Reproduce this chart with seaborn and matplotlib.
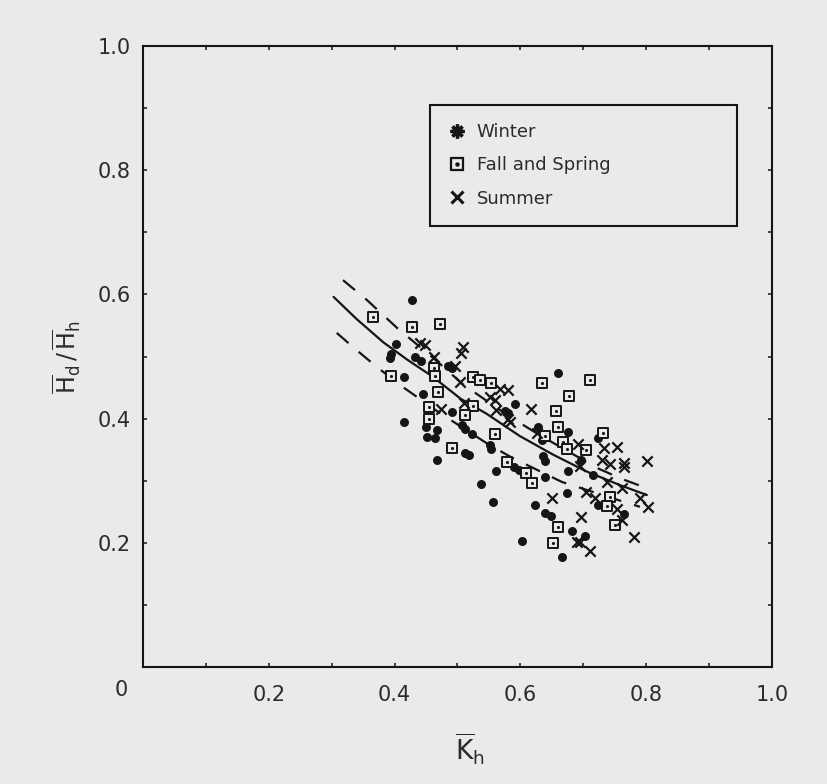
import matplotlib
matplotlib.use("Agg")
import matplotlib.pyplot as plt
import seaborn as sns
from matplotlib.lines import Line2D
from matplotlib.legend_handler import HandlerTuple

# ---------------- data ----------------
winter_k = [0.427, 0.402, 0.395, 0.392, 0.432, 0.442, 0.485, 0.491, 0.415, 0.415,
            0.445, 0.492, 0.591, 0.576, 0.581, 0.450, 0.467, 0.451, 0.464, 0.507,
            0.512, 0.523, 0.628, 0.675, 0.634, 0.724, 0.552, 0.554, 0.512, 0.519,
            0.468, 0.636, 0.639, 0.697, 0.590, 0.598, 0.561, 0.676, 0.715, 0.639,
            0.538, 0.674, 0.556, 0.623, 0.724, 0.639, 0.649, 0.765, 0.682, 0.702,
            0.602, 0.666, 0.660]
winter_r = [0.591, 0.520, 0.504, 0.497, 0.500, 0.493, 0.485, 0.481, 0.467, 0.395,
            0.440, 0.411, 0.423, 0.413, 0.409, 0.386, 0.381, 0.370, 0.368, 0.390,
            0.384, 0.376, 0.386, 0.379, 0.366, 0.368, 0.357, 0.351, 0.345, 0.341,
            0.334, 0.340, 0.331, 0.333, 0.322, 0.318, 0.316, 0.316, 0.309, 0.306,
            0.295, 0.280, 0.266, 0.261, 0.261, 0.248, 0.243, 0.246, 0.219, 0.211,
            0.203, 0.177, 0.473]

fallspring_k = [0.366, 0.427, 0.472, 0.463, 0.464, 0.395, 0.525, 0.535, 0.553, 0.635,
                0.710, 0.469, 0.677, 0.454, 0.524, 0.656, 0.512, 0.455, 0.659, 0.731,
                0.559, 0.639, 0.668, 0.674, 0.704, 0.492, 0.579, 0.609, 0.618, 0.742,
                0.737, 0.660, 0.750, 0.652]
fallspring_r = [0.564, 0.548, 0.553, 0.481, 0.469, 0.469, 0.467, 0.463, 0.457, 0.458,
                0.462, 0.443, 0.436, 0.419, 0.421, 0.412, 0.406, 0.400, 0.386, 0.377,
                0.375, 0.372, 0.362, 0.351, 0.349, 0.353, 0.330, 0.313, 0.296, 0.274,
                0.260, 0.226, 0.228, 0.200]

summer_k = [0.440, 0.448, 0.509, 0.506, 0.462, 0.496, 0.504, 0.568, 0.581, 0.551,
            0.560, 0.473, 0.511, 0.617, 0.561, 0.581, 0.583, 0.626, 0.692, 0.733,
            0.753, 0.729, 0.695, 0.742, 0.765, 0.764, 0.801, 0.737, 0.761, 0.705,
            0.650, 0.719, 0.790, 0.753, 0.803, 0.696, 0.761, 0.690, 0.695, 0.711,
            0.781]
summer_r = [0.521, 0.519, 0.515, 0.506, 0.500, 0.484, 0.459, 0.447, 0.446, 0.435,
            0.430, 0.415, 0.425, 0.415, 0.414, 0.400, 0.395, 0.377, 0.359, 0.353,
            0.355, 0.334, 0.324, 0.327, 0.328, 0.322, 0.332, 0.298, 0.289, 0.282,
            0.272, 0.272, 0.272, 0.254, 0.257, 0.242, 0.237, 0.201, 0.202, 0.187,
            0.209]

fit_k = [0.303, 0.340, 0.382, 0.420, 0.460, 0.505, 0.546, 0.599, 0.652, 0.705, 0.758, 0.801]
fit_r = [0.596, 0.560, 0.523, 0.495, 0.468, 0.432, 0.408, 0.372, 0.342, 0.315, 0.293, 0.277]

upper_k = [0.318, 0.356, 0.404, 0.461, 0.509, 0.580, 0.633, 0.723, 0.761, 0.793]
upper_r = [0.623, 0.591, 0.546, 0.498, 0.455, 0.405, 0.372, 0.320, 0.303, 0.291]

lower_k = [0.308, 0.340, 0.372, 0.413, 0.472, 0.547, 0.585, 0.666, 0.755, 0.790]
lower_r = [0.538, 0.510, 0.483, 0.451, 0.409, 0.360, 0.338, 0.298, 0.269, 0.258]

x_ticks = [0.2, 0.4, 0.6, 0.8, 1.0]
x_tick_labels = ["0.2", "0.4", "0.6", "0.8", "1.0"]
y_ticks = [0.2, 0.4, 0.6, 0.8, 1.0]
y_tick_labels = ["0.2", "0.4", "0.6", "0.8", "1.0"]
minor_ticks = [0.1, 0.3, 0.5, 0.7, 0.9]
legend_labels = ["Winter", "Fall and Spring", "Summer"]

# ---------------- style ----------------
BG = "#eaeaea"
INK = "#151515"
TXT = "#2b2b2b"

sns.set_theme(style="white")
plt.rcParams["font.family"] = ["DejaVu Sans"]
plt.rcParams["mathtext.fontset"] = "dejavusans"

fig = plt.figure(figsize=(8.27, 7.84), dpi=100, facecolor=BG)
ax = fig.add_axes([0.1729, 0.1492, 0.7606, 0.7921])
ax.set_facecolor(BG)

# fitted curve and bounds
sns.lineplot(x=fit_k, y=fit_r, sort=False, estimator=None, color=INK, lw=1.6, ax=ax)
sns.lineplot(x=upper_k, y=upper_r, sort=False, estimator=None, color=INK, lw=1.6,
             linestyle=(0, (7, 6)), ax=ax)
sns.lineplot(x=lower_k, y=lower_r, sort=False, estimator=None, color=INK, lw=1.6,
             linestyle=(0, (7, 6)), ax=ax)

# points
sns.scatterplot(x=winter_k, y=winter_r, marker="o", s=42, color=INK, linewidth=0,
                legend=False, ax=ax, zorder=3)
sns.scatterplot(x=fallspring_k, y=fallspring_r, marker="s", s=48, color=BG,
                edgecolor=INK, linewidth=1.4, legend=False, ax=ax, zorder=3)
sns.scatterplot(x=fallspring_k, y=fallspring_r, marker="o", s=5, color=INK,
                linewidth=0, legend=False, ax=ax, zorder=4)
sns.scatterplot(x=summer_k, y=summer_r, marker="x", s=55, color=INK, linewidth=1.6,
                legend=False, ax=ax, zorder=3)

# axes
ax.set_xlim(0, 1.0)
ax.set_ylim(0, 1.0)
ax.set_xticks(x_ticks)
ax.set_xticklabels(x_tick_labels)
ax.set_yticks(y_ticks)
ax.set_yticklabels(y_tick_labels)
ax.set_xticks(minor_ticks, minor=True)
ax.set_yticks(minor_ticks, minor=True)
ax.tick_params(which="both", direction="in", length=3, width=1.1, color=INK,
               top=True, right=True, bottom=True, left=True)
ax.tick_params(axis="x", which="major", labelsize=15, labelcolor=TXT, pad=13)
ax.tick_params(axis="y", which="major", labelsize=15, labelcolor=TXT, pad=9)
for sp in ax.spines.values():
    sp.set_visible(True)
    sp.set_color(INK)
    sp.set_linewidth(1.5)

ax.text(-0.035, -0.037, "0", transform=ax.transAxes, ha="center", va="center",
        fontsize=15, color=TXT)

ax.set_xlabel(r"$\overline{\mathrm{K}}_{\mathrm{h}}$", fontsize=19, color=TXT)
ax.xaxis.set_label_coords(0.52, -0.105)
ax.set_ylabel(r"$\overline{\mathrm{H}}_{\mathrm{d}}\,/\,\overline{\mathrm{H}}_{\mathrm{h}}$",
              fontsize=17, color=TXT, labelpad=10)

# legend
h_w = Line2D([], [], linestyle="none", marker=(8, 2, 0), markersize=10,
             markeredgewidth=2.4, color=INK)
h_fs1 = Line2D([], [], linestyle="none", marker="s", markersize=8.5,
               markerfacecolor=BG, markeredgecolor=INK, markeredgewidth=1.6)
h_fs2 = Line2D([], [], linestyle="none", marker="o", markersize=2.2, color=INK)
h_s = Line2D([], [], linestyle="none", marker="x", markersize=8,
             markeredgewidth=2.2, color=INK)
leg = ax.legend([h_w, (h_fs1, h_fs2), h_s], legend_labels,
                handler_map={tuple: HandlerTuple(ndivide=1)},
                loc="upper left", bbox_to_anchor=(0.456, 0.715, 0.488, 0.19),
                mode="expand", fontsize=13, frameon=True, fancybox=False,
                edgecolor=INK, facecolor=BG, framealpha=1, borderpad=1.0,
                labelspacing=0.85, handlelength=1.0, handletextpad=0.6,
                borderaxespad=0)
leg.get_frame().set_linewidth(1.5)
for t in leg.get_texts():
    t.set_color(TXT)

fig.savefig("out.png", dpi=100, facecolor=BG)
